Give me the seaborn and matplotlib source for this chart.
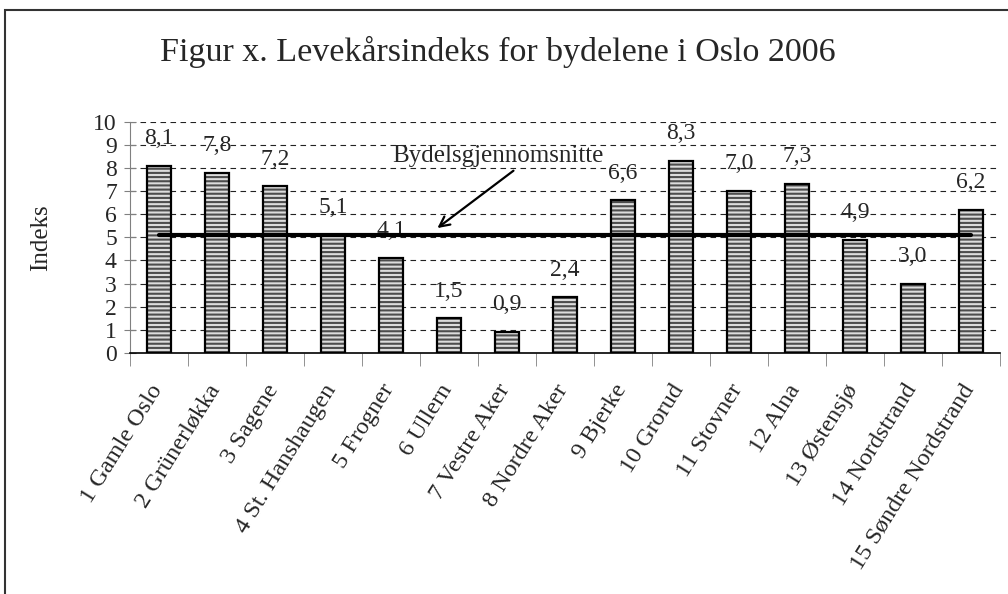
import matplotlib
matplotlib.use("Agg")
import matplotlib.pyplot as plt
import matplotlib.transforms as mtransforms
import seaborn as sns
import pandas as pd
from matplotlib.patches import Rectangle

# Data
bydeler = ["1 Gamle Oslo", "2 Grünerløkka", "3 Sagene", "4 St. Hanshaugen",
           "5 Frogner", "6 Ullern", "7 Vestre Aker", "8 Nordre Aker",
           "9 Bjerke", "10 Grorud", "11 Stovner", "12 Alna",
           "13 Østensjø", "14 Nordstrand", "15 Søndre Nordstrand"]
indeks = [8.1, 7.8, 7.2, 5.1, 4.1, 1.5, 0.9, 2.4, 6.6, 8.3, 7.0, 7.3, 4.9, 3.0, 6.2]
snitt = 5.1

df = pd.DataFrame({"Bydel": bydeler, "Indeks": indeks})
df["Snitt"] = snitt

sns.set_style("white")
plt.rcParams['font.family'] = ['Liberation Serif', 'DejaVu Serif']
plt.rcParams['hatch.linewidth'] = 1.5

fig = plt.figure(figsize=(10.08, 5.94), dpi=100)
ax = fig.add_axes([0.129, 0.406, 0.863, 0.389])

# Bars: hatched grey fill, then black outline on top
sns.barplot(data=df, x="Bydel", y="Indeks", color="#dcdcdc", width=0.42,
            edgecolor="#4d4d4d", linewidth=0, hatch="----", ax=ax, zorder=2)
sns.barplot(data=df, x="Bydel", y="Indeks", fill=False, width=0.42,
            edgecolor="black", linewidth=1.6, ax=ax, zorder=3)

# Average line
sns.lineplot(data=df, x="Bydel", y="Snitt", color="black", linewidth=3, ax=ax,
             zorder=4, sort=False)

# Value labels
labels = [f"{v:.1f}".replace(".", ",") for v in indeks]
ax.bar_label(ax.containers[0], labels=labels, padding=12, fontsize=17)

ax.set_xlim(-0.5, len(bydeler) - 0.5)
ax.set_ylim(0, 10)
ax.set_yticks(range(0, 11))
ax.yaxis.grid(True, color="#222222", linestyle=(0, (5, 4)), linewidth=0.8)
ax.set_axisbelow(True)
for gl in ax.get_ygridlines()[:1]:
    gl.set_visible(False)

ax.tick_params(axis="y", direction="inout", length=9, color="#808080",
               labelsize=17, pad=5, left=True)
ax.tick_params(axis="x", which="major", length=0, labelsize=17.5, pad=20)
ax.set_xticks([i - 0.5 for i in range(len(bydeler) + 1)], minor=True)
ax.tick_params(axis="x", which="minor", direction="out", length=9,
               color="#808080", bottom=True)
shift = mtransforms.ScaledTranslation(-10 / 100, 0, fig.dpi_scale_trans)
for lab in ax.get_xticklabels():
    lab.set_rotation(58)
    lab.set_ha("right")
    lab.set_rotation_mode("anchor")
    lab.set_transform(lab.get_transform() + shift)

for s in ["top", "right"]:
    ax.spines[s].set_visible(False)
ax.spines["left"].set_color("#808080")
ax.spines["bottom"].set_color("black")
ax.spines["bottom"].set_linewidth(1.2)

ax.set_xlabel("")
ax.set_ylabel("Indeks", fontsize=18)
ax.yaxis.set_label_coords(-0.09, 0.5)

ax.annotate("Bydelsgjennomsnitte", xy=(4.8, 5.4), xytext=(5.85, 8.5),
            ha="center", va="center", fontsize=18,
            arrowprops=dict(arrowstyle="->", color="black", lw=1.6,
                            shrinkA=0, shrinkB=0, relpos=(0.62, 0.2)))

fig.text(0.494, 0.912, "Figur x. Levekårsindeks for bydelene i Oslo 2006",
         ha="center", va="center", fontsize=24.5)

# Outer frame (left and top edges visible)
fig.patches.append(Rectangle((5 / 1008, -0.1), 1.1, 1.1 - 10 / 594,
                             transform=fig.transFigure, fill=False,
                             edgecolor="#333333", linewidth=1.5))

fig.savefig("out.png", dpi=100)
